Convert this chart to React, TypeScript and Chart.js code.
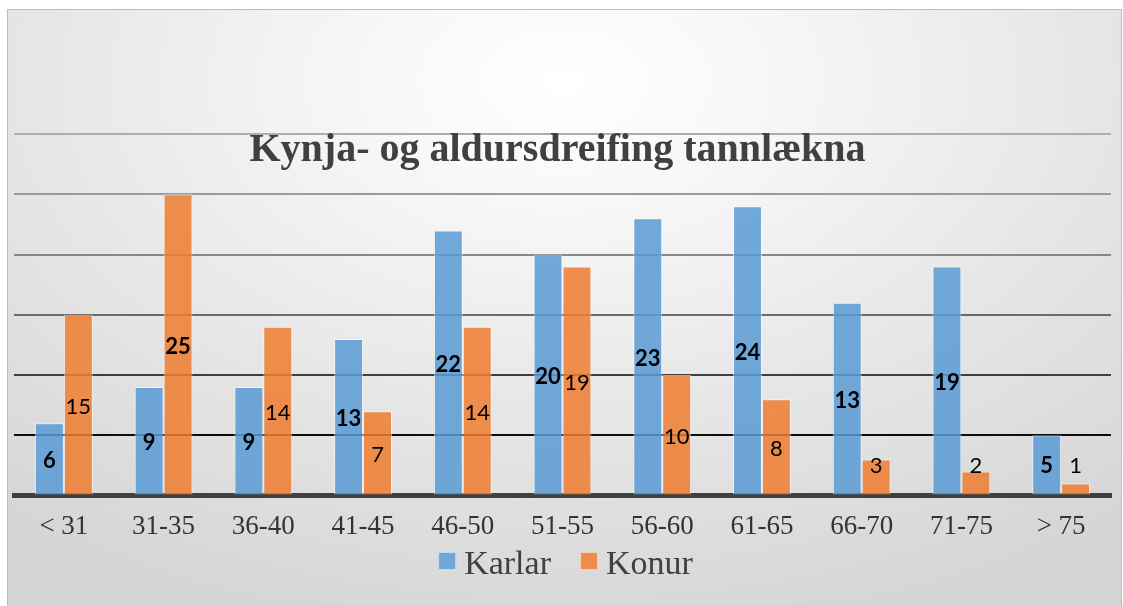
import React, { useEffect, useRef } from "react";
import { Chart, registerables } from "chart.js";

Chart.register(...registerables);

const chartTitle = "Kynja- og aldursdreifing tannlækna";
const categories = ["< 31", "31-35", "36-40", "41-45", "46-50", "51-55", "56-60", "61-65", "66-70", "71-75", "> 75"];
const seriesNames = ["Karlar", "Konur"];
const karlar = [6, 9, 9, 13, 22, 20, 23, 24, 16, 19, 5];
const konur = [15, 25, 14, 7, 14, 19, 10, 8, 3, 2, 1];
const karlarLabels = ["6", "9", "9", "13", "22", "20", "23", "24", "13", "19", "5"];
const konurLabels = ["15", "25", "14", "7", "14", "19", "10", "8", "3", "2", "1"];
const yTicks = [0, 5, 10, 15, 20, 25, 30];

const konurBoldIndex = [1];
const barColors = ["rgba(91,155,213,0.86)", "rgba(237,125,49,0.86)"];
const legendColors = ["#70a6d8", "#ec8d4c"];
const gridColors: Record<number, string> = {
  0: "rgba(0,0,0,0)",
  5: "#0d0d0d",
  10: "#3f3f3f",
  15: "#6b6b6b",
  20: "#878787",
  25: "#9b9b9b",
  30: "#adadad",
};

const labelPlugin = {
  id: "barLabels",
  afterDatasetsDraw(chart: any) {
    const ctx = chart.ctx;
    const area = chart.chartArea;
    const texts = [karlarLabels, konurLabels];
    ctx.save();
    chart.data.datasets.forEach((_ds: any, di: number) => {
      const meta = chart.getDatasetMeta(di);
      meta.data.forEach((el: any, i: number) => {
        const p = el.getProps(["x", "y", "base"], true);
        const cy = Math.min((p.y + p.base) / 2 + 2, area.bottom - 30);
        const bold = di === 0 || konurBoldIndex.includes(i);
        ctx.font = `${bold ? "bold " : ""}22px Lato`;
        ctx.fillStyle = "#000000";
        ctx.textAlign = "center";
        ctx.textBaseline = "middle";
        ctx.fillText(texts[di][i], p.x, cy);
      });
    });
    ctx.restore();
  },
};

const titleLegendPlugin = {
  id: "titleLegend",
  afterDraw(chart: any) {
    const ctx = chart.ctx;
    const area = chart.chartArea;
    const cx = (area.left + area.right) / 2;
    ctx.save();
    ctx.font = "bold 40px 'Liberation Serif'";
    ctx.fillStyle = "#404040";
    ctx.textAlign = "center";
    ctx.textBaseline = "alphabetic";
    ctx.fillText(chartTitle, cx - 5, 151);
    ctx.font = "34px 'Liberation Serif'";
    const box = 18;
    const gap = 8;
    const itemGap = 29;
    const widths = seriesNames.map((n) => box + gap + ctx.measureText(n).width);
    const total = widths.reduce((a, b) => a + b, 0) + itemGap * (seriesNames.length - 1);
    let x = cx + 3 - total / 2;
    const boxTop = 542;
    seriesNames.forEach((n, i) => {
      ctx.fillStyle = legendColors[i];
      ctx.fillRect(x, boxTop, box, box);
      ctx.strokeStyle = "rgba(255,255,255,0.6)";
      ctx.lineWidth = 1;
      ctx.strokeRect(x + 0.5, boxTop + 0.5, box - 1, box - 1);
      ctx.fillStyle = "#404040";
      ctx.textAlign = "left";
      ctx.fillText(n, x + box + gap, 564);
      x += widths[i] + itemGap;
    });
    ctx.restore();
  },
};

export default function App() {
  const ref = useRef<HTMLCanvasElement>(null);

  useEffect(() => {
    if (!ref.current) return;
    const chart = new Chart(ref.current, {
      type: "bar",
      data: {
        labels: categories,
        datasets: [
          {
            label: seriesNames[0],
            data: karlar,
            backgroundColor: barColors[0],
            borderColor: "rgba(255,255,255,0.55)",
            borderWidth: 1,
            categoryPercentage: 0.58,
            barPercentage: 1,
          },
          {
            label: seriesNames[1],
            data: konur,
            backgroundColor: barColors[1],
            borderColor: "rgba(255,255,255,0.55)",
            borderWidth: 1,
            categoryPercentage: 0.58,
            barPercentage: 1,
          },
        ],
      },
      options: {
        responsive: false,
        animation: false,
        layout: { padding: { left: 6, right: 10, top: 124, bottom: 48 } },
        plugins: {
          legend: { display: false },
          title: { display: false },
          tooltip: { enabled: false },
        },
        scales: {
          x: {
            z: 1,
            grid: { display: false, drawTicks: false },
            border: { display: true, color: "#404040", width: 5 },
            ticks: {
              font: { family: "'Liberation Serif'", size: 27 },
              color: "#333333",
              padding: 15,
              maxRotation: 0,
              autoSkip: false,
            },
          },
          y: {
            min: yTicks[0],
            max: yTicks[yTicks.length - 1],
            ticks: { stepSize: 5, display: false },
            grid: {
              drawTicks: false,
              color: (c: any) => gridColors[c.tick?.value] ?? "#999999",
              lineWidth: 2,
            },
            border: { display: false },
          },
        },
      },
      plugins: [labelPlugin, titleLegendPlugin],
    });
    return () => chart.destroy();
  }, []);

  return (
    <div
      style={{
        position: "fixed",
        left: 7,
        top: 9,
        width: 1115,
        height: 597,
        boxSizing: "border-box",
        borderTop: "1px solid #bcbcc4",
        borderLeft: "1px solid #bcbcc4",
        borderRight: "1px solid #bcbcc4",
        background:
          "radial-gradient(ellipse 80% 95% at 50% 12%, #ffffff 0%, #f6f6f6 25%, #e6e6e6 60%, #d5d5d5 100%)",
      }}
    >
      <canvas ref={ref} width={1113} height={596} style={{ display: "block" }} />
    </div>
  );
}
